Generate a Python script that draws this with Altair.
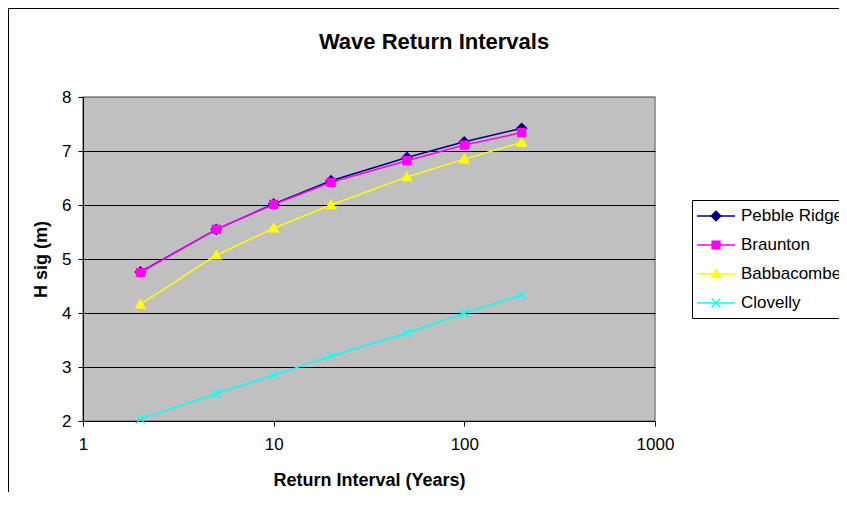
import altair as alt
import pandas as pd

# ---- data ----
years = [2, 5, 10, 20, 50, 100, 200]
series_names = ["Pebble Ridge", "Braunton", "Babbacombe", "Clovelly"]
pebble_ridge = [4.76, 5.55, 6.02, 6.45, 6.88, 7.17, 7.42]
braunton = [4.75, 5.55, 6.01, 6.42, 6.82, 7.11, 7.34]
babbacombe = [4.16, 5.07, 5.57, 6.00, 6.52, 6.85, 7.16]
clovelly = [2.04, 2.51, 2.85, 3.20, 3.63, 4.00, 4.33]
series_colors = ["#000080", "#FF00FF", "#FFFF00", "#00FFFF"]
x_ticks = [1, 10, 100, 1000]
y_ticks = [2, 3, 4, 5, 6, 7, 8]
chart_title = "Wave Return Intervals"

rows = []
for name, vals in zip(series_names, [pebble_ridge, braunton, babbacombe, clovelly]):
    for yr, v in zip(years, vals):
        rows.append({"series": name, "years": yr, "hsig": v})
df = pd.DataFrame(rows)
legend_df = pd.DataFrame({"series": series_names, "row": list(range(len(series_names)))})

FONT = "Liberation Sans"

# marker shapes (diamond, square, triangle, x)
marker_paths = [
    "M0,-1L1,0L0,1L-1,0Z",
    "M-0.8,-0.8H0.8V0.8H-0.8Z",
    "M0,-0.95L0.95,0.75H-0.95Z",
    "M-0.9,-0.9L0.9,0.9M-0.9,0.9L0.9,-0.9",
]

color_scale = alt.Scale(domain=series_names, range=series_colors)
shape_scale = alt.Scale(domain=series_names, range=marker_paths)

x_enc = alt.X(
    "years:Q",
    scale=alt.Scale(type="log", domain=[1, 1000], nice=False),
    axis=alt.Axis(
        values=x_ticks, format="d", title="Return Interval (Years)", grid=False,
        tickSize=5, tickColor="black", domainColor="black",
        labelFont=FONT, labelFontSize=17, labelColor="black", labelPadding=10,
        labelFlush=False, labelOverlap=False,
        titleFont=FONT, titleFontSize=18, titleFontWeight="bold", titleColor="black",
        titlePadding=19,
    ),
)
y_enc = alt.Y(
    "hsig:Q",
    scale=alt.Scale(domain=[2, 8], nice=False, zero=False),
    axis=alt.Axis(
        values=y_ticks, title="H sig (m)", grid=True,
        gridColor=alt.ExprRef("datum.value === 8 ? '#808080' : '#000000'"),
        gridWidth=1,
        tickSize=5, tickColor="black", domainColor="black",
        labelFont=FONT, labelFontSize=17, labelColor="black", labelPadding=7,
        titleFont=FONT, titleFontSize=18, titleFontWeight="bold", titleColor="black",
        titlePadding=11,
    ),
)

one_row = alt.Data(values=[{"k": 1}])

border = alt.Chart(one_row).mark_rect(
    fill="white", fillOpacity=0, stroke="black", strokeWidth=1
).encode(
    x=alt.value(-74.5), x2=alt.value(900), y=alt.value(-88.5), y2=alt.value(800)
)

title_text = alt.Chart(one_row).mark_text(
    text=chart_title, font=FONT, fontSize=22, fontWeight="bold", color="black",
    align="center", baseline="alphabetic",
).encode(x=alt.value(351), y=alt.value(-48.5))

lines = alt.Chart(df).mark_line(strokeWidth=1.5).encode(
    x=x_enc, y=y_enc,
    color=alt.Color("series:N", scale=color_scale, legend=None),
    detail="series:N",
)

points = alt.Chart(df).mark_point(
    filled=True, size=100, opacity=1, strokeWidth=1.2
).encode(
    x=x_enc, y=y_enc,
    fill=alt.Fill("series:N", scale=color_scale, legend=None),
    stroke=alt.Stroke("series:N", scale=color_scale, legend=None),
    shape=alt.Shape("series:N", scale=shape_scale, legend=None),
)

# ---- legend (Excel style: line + marker, boxed) ----
legend_box = alt.Chart(one_row).mark_rect(
    fill="white", stroke="black", strokeWidth=1
).encode(
    x=alt.value(609.5), x2=alt.value(900), y=alt.value(103.5), y2=alt.value(221.5)
)

legend_base = alt.Chart(legend_df).transform_calculate(
    ly="119 + 29 * datum.row"
)

legend_lines = legend_base.mark_rule(strokeWidth=1.5).encode(
    x=alt.value(614), x2=alt.value(652),
    y=alt.Y("ly:Q", scale=None),
    color=alt.Color("series:N", scale=color_scale, legend=None),
)

legend_points = legend_base.mark_point(
    filled=True, size=100, opacity=1, strokeWidth=1.2
).encode(
    x=alt.value(633),
    y=alt.Y("ly:Q", scale=None),
    fill=alt.Fill("series:N", scale=color_scale, legend=None),
    stroke=alt.Stroke("series:N", scale=color_scale, legend=None),
    shape=alt.Shape("series:N", scale=shape_scale, legend=None),
)

legend_text = legend_base.mark_text(
    font=FONT, fontSize=17, color="black", align="left", baseline="middle"
).encode(
    x=alt.value(658),
    y=alt.Y("ly:Q", scale=None),
    text="series:N",
)

chart = alt.layer(
    border, title_text, lines, points,
    legend_box, legend_lines, legend_points, legend_text,
).properties(
    width=572,
    height=324,
    padding={"left": 75, "top": 89, "right": 184, "bottom": 71},
    autosize=alt.AutoSizeParams(type="none"),
    background="white",
).configure_view(
    fill="#C0C0C0", stroke="#808080", strokeWidth=1.5
)

chart.save("out.html", embed_options={"renderer": "svg", "actions": False})
